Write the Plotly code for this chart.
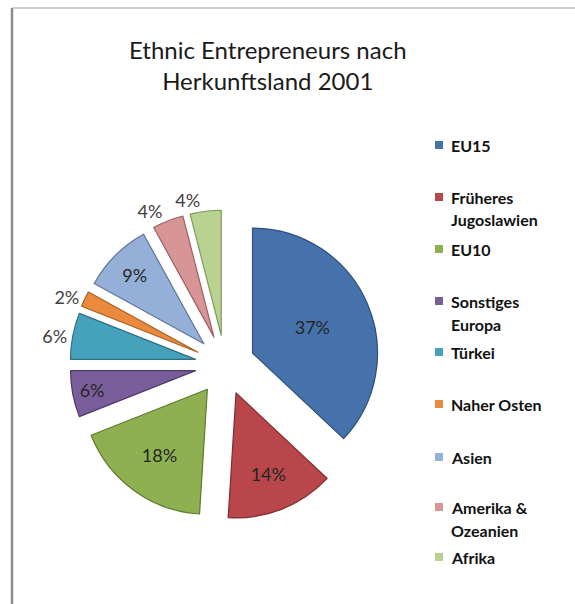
import plotly.graph_objects as go

# Share of ethnic entrepreneurs by region of origin, 2001 (percent)
labels = ["EU15", "Früheres Jugoslawien", "EU10", "Sonstiges Europa", "Türkei",
          "Naher Osten", "Asien", "Amerika & Ozeanien", "Afrika"]
values = [37, 14, 18, 6, 6, 2, 9, 4, 4]
legend_lines = [["EU15"], ["Früheres", "Jugoslawien"], ["EU10"], ["Sonstiges", "Europa"],
                ["Türkei"], ["Naher Osten"], ["Asien"], ["Amerika &", "Ozeanien"], ["Afrika"]]
colors = ["#4672AC", "#B8464A", "#8FB050", "#7A5E9C", "#46A2BC",
          "#E98A3E", "#95B0D8", "#D79595", "#B9D292"]
edge_colors = ["#2C4D78", "#7E2C2E", "#5E7A30", "#4E3B68", "#2C7084",
               "#A85E22", "#5E7598", "#9C6060", "#809A5E"]
label_pos = ["inside", "inside", "inside", "inside", "outside",
             "outside", "inside", "outside", "outside"]
# the last small slice gets its label from a second, transparent layer so that
# it is not pushed aside by the neighbouring outside label
own_layer = [i == len(values) - 1 for i in range(len(values))]

W, H = 575, 604
FONT = "Lato, 'Open Sans', sans-serif"
PULL = 0.24
DOMAIN = dict(x=[70 / W, 380 / W], y=[1 - 520 / H, 1 - 210 / H])

fig = go.Figure()
fig.add_trace(go.Pie(
    labels=labels,
    values=values,
    sort=False,
    direction="clockwise",
    rotation=0,
    pull=[PULL] * len(values),
    marker=dict(colors=colors, line=dict(color=edge_colors, width=1.2)),
    texttemplate=["" if o else "%{percent:.0%}" for o in own_layer],
    textposition=["none" if o else p for o, p in zip(own_layer, label_pos)],
    insidetextorientation="horizontal",
    textfont=dict(family=FONT, size=18, color="#262626"),
    outsidetextfont=dict(family=FONT, size=18, color="#404040"),
    automargin=False,
    showlegend=False,
    hoverinfo="label+percent",
    domain=DOMAIN,
))
fig.add_trace(go.Pie(
    labels=labels,
    values=values,
    sort=False,
    direction="clockwise",
    rotation=0,
    pull=[PULL] * len(values),
    marker=dict(colors=["rgba(0,0,0,0)"] * len(values), line=dict(width=0)),
    texttemplate=["%{percent:.0%}" if o else "" for o in own_layer],
    textposition=[p if o else "none" for o, p in zip(own_layer, label_pos)],
    outsidetextfont=dict(family=FONT, size=18, color="#404040"),
    automargin=False,
    showlegend=False,
    hoverinfo="skip",
    domain=DOMAIN,
))

annotations = [dict(
    text="Ethnic Entrepreneurs nach<br>Herkunftsland 2001",
    x=268 / W, y=1 - 65 / H, xref="paper", yref="paper",
    xanchor="center", yanchor="middle", showarrow=False,
    font=dict(family=FONT, size=24, color="#1a1a1a"),
)]
shapes = []

# Legend: colour square plus one text line per row
legend_rows = [145, 197, 249, 301, 352, 404, 457, 507, 557]
line_gap = 23
for lines, col, yc in zip(legend_lines, colors, legend_rows):
    shapes.append(dict(type="rect", xref="paper", yref="paper",
                       x0=435 / W, x1=443 / W, y0=1 - (yc + 4) / H, y1=1 - (yc - 4) / H,
                       fillcolor=col, line=dict(width=0)))
    for i, ln in enumerate(lines):
        annotations.append(dict(
            text="<b>" + ln + "</b>", x=449 / W, y=1 - (yc + i * line_gap) / H,
            xref="paper", yref="paper", xanchor="left", yanchor="middle",
            showarrow=False, font=dict(family=FONT, size=16, color="#111111"),
        ))

# Chart frame (left and top edges)
shapes.append(dict(type="line", xref="paper", yref="paper",
                   x0=12 / W, x1=12 / W, y0=0, y1=1 - 8 / H,
                   line=dict(color="#8c8c8c", width=2.5)))
shapes.append(dict(type="line", xref="paper", yref="paper",
                   x0=12 / W, x1=1, y0=1 - 8 / H, y1=1 - 8 / H,
                   line=dict(color="#a0a0a0", width=1.2)))

fig.update_layout(
    width=W, height=H,
    margin=dict(l=0, r=0, t=0, b=0, autoexpand=False),
    paper_bgcolor="white",
    plot_bgcolor="white",
    annotations=annotations,
    shapes=shapes,
    font=dict(family=FONT),
)

fig.write_html("out.html")
